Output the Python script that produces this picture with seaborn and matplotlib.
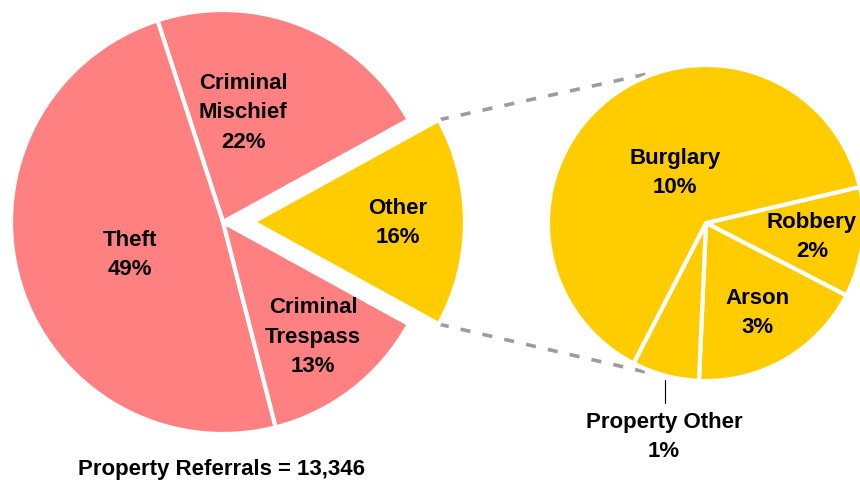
import matplotlib
matplotlib.use("Agg")
import matplotlib.pyplot as plt
import seaborn as sns
import numpy as np

# ---- data ----
main_labels = ["Other", "Criminal\nMischief", "Theft", "Criminal\nTrespass"]
main_values = [16, 22, 49, 13]
sub_labels = ["Robbery", "Arson", "Property Other", "Burglary"]
sub_values = [1.8, 2.9, 1.1, 10.2]
title_text = "Property Referrals = 13,346"

sns.set_theme(style="white")
plt.rcParams['font.family'] = ['Liberation Sans', 'DejaVu Sans']

W, H = 860, 484
fig = plt.figure(figsize=(8.6, 4.84), dpi=100)
ax = fig.add_axes([0, 0, 1, 1])

salmon = '#FF8080'
gold = '#FFCC00'
main_colors = [gold, salmon, salmon, salmon]

# main pie
r1 = 212
c1 = (223, H - 222)
start1 = -main_values[0] / sum(main_values) * 360 / 2
wedges1, _ = ax.pie(main_values, colors=main_colors, startangle=start1,
                    radius=r1, center=c1, frame=True,
                    wedgeprops=dict(edgecolor='white', linewidth=3))
explode_px = 30
wedges1[0].set_center((c1[0] + explode_px, c1[1]))

# sub pie
r2 = 158
c2 = (706, H - 223)
wedges2, _ = ax.pie(sub_values, colors=[gold] * 4, startangle=13.2,
                    counterclock=False, radius=r2, center=c2, frame=True,
                    wedgeprops=dict(edgecolor='white', linewidth=3))

ax.set_xlim(0, W)
ax.set_ylim(0, H)
ax.set_aspect('equal')
ax.axis('off')

# connector lines
ow = wedges1[0]
ocx, ocy = ow.center
for a_src, a_dst in [(ow.theta2, 111), (ow.theta1, -110)]:
    x0 = ocx + r1 * np.cos(np.radians(a_src))
    y0 = ocy + r1 * np.sin(np.radians(a_src))
    x1 = c2[0] + (r2 + 2) * np.cos(np.radians(a_dst))
    y1 = c2[1] + (r2 + 2) * np.sin(np.radians(a_dst))
    ax.plot([x0, x1], [y0, y1], color='#9C9C9C', lw=2.6,
            linestyle=(0, (2.8, 3.4)), zorder=0)

# leader line for Property Other
ax.plot([665, 665], [H - 380, H - 403], color='black', lw=0.8)

fs = 16
kw = dict(ha='center', va='center', fontsize=fs, fontweight='bold',
          color='black', linespacing=1.55)

def pct(v):
    return f"{v:.0f}%"

main_pos = [(398, 223), (243, 113), (130, 255), (313, 337)]
for lab, v, (x, y) in zip(main_labels, main_values, main_pos):
    ax.text(x, H - y, f"{lab}\n{pct(v)}", **kw)

sub_pos = [(812, 237), (758, 313), (664, 437), (675, 173)]
for lab, v, (x, y) in zip(sub_labels, sub_values, sub_pos):
    ax.text(x, H - y, f"{lab}\n{pct(v)}", **kw)

ax.text(221, H - 470, title_text, **kw)

fig.savefig("out.png", dpi=100)
